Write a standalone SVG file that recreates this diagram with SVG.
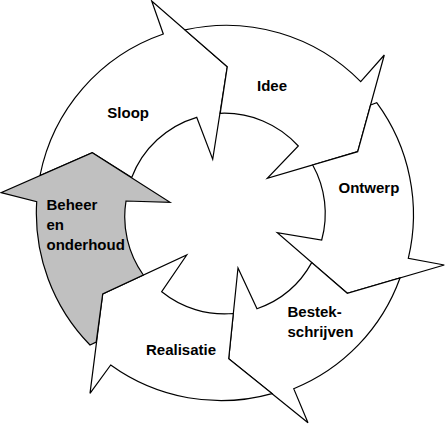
<svg xmlns="http://www.w3.org/2000/svg" width="445" height="424" viewBox="0 0 445 424">
<style>
.arrow{fill:#ffffff;stroke:#000000;stroke-width:1.2;stroke-linejoin:miter}
.gray{fill:#c0c0c0}
.lbl{font-family:"Liberation Sans",Arial,Helvetica,sans-serif;font-weight:bold;font-size:15px;fill:#000000}
</style>
<rect width="445" height="424" fill="#ffffff"/>
<g id="sloop">
<path class="arrow" d="M 40,175.5 A 188.5 188.5 0 0 1 163.3,34 L 151.7,1 L 227.3,66.7 L 212.7,159.3 L 196.7,117.3 A 100 100 0 0 0 131.7,177.5 L 92.3,152.7 Z"/>
<text class="lbl" x="107.3" y="117.5">Sloop</text>
</g>
<g id="idee">
<path class="arrow" d="M 185,29.9 A 188.5 188.5 0 0 1 360.7,81.7 L 384.3,55 L 357.7,151.7 L 267.3,178.3 L 298.3,146 A 100 100 0 0 0 220.2,113.3 L 227.3,66.7 Z"/>
<text class="lbl" x="257" y="90.7">Idee</text>
</g>
<g id="ontwerp">
<path class="arrow" d="M 370.6,105 L 376.7,102.7 A 188.5 188.5 0 0 1 408.3,258.3 L 444.3,265 L 347.3,293.3 L 277.3,232.7 L 321.7,240 A 100 100 0 0 0 312.7,165 L 357.7,151.7 Z"/>
<text class="lbl" x="338.5" y="193.3">Ontwerp</text>
</g>
<g id="bestek">
<path class="arrow" d="M 400,278 A 188.5 188.5 0 0 1 293.7,388.7 L 308,422.7 L 228.7,358.7 L 238,268 L 257,308.7 A 100 100 0 0 0 311.7,262.6 L 347.3,293.3 Z"/>
<text class="lbl" x="287.5" y="316.5">Bestek-</text>
<text class="lbl" x="287.5" y="337">schrijven</text>
</g>
<g id="realisatie">
<path class="arrow" d="M 272,393.6 A 188.5 188.5 0 0 1 110.7,365 L 90,393.3 L 102.7,294 L 186.7,255 L 161.7,291.7 A 100 100 0 0 0 233.3,313.5 L 228.7,358.7 Z"/>
<text class="lbl" x="146" y="354.5">Realisatie</text>
</g>
<g id="beheer">
<path class="arrow gray" d="M 92.3,152.7 L 170,202.3 L 126,201 A 100 100 0 0 0 143.3,275 L 102.7,294 L 96.2,342 L 90,345 A 188.5 188.5 0 0 1 36.7,201.7 L 1,192.7 Z"/>
<text class="lbl" x="46.5" y="209.5">Beheer</text>
<text class="lbl" x="46.5" y="229.8">en</text>
<text class="lbl" x="46.5" y="250">onderhoud</text>
</g>
</svg>
